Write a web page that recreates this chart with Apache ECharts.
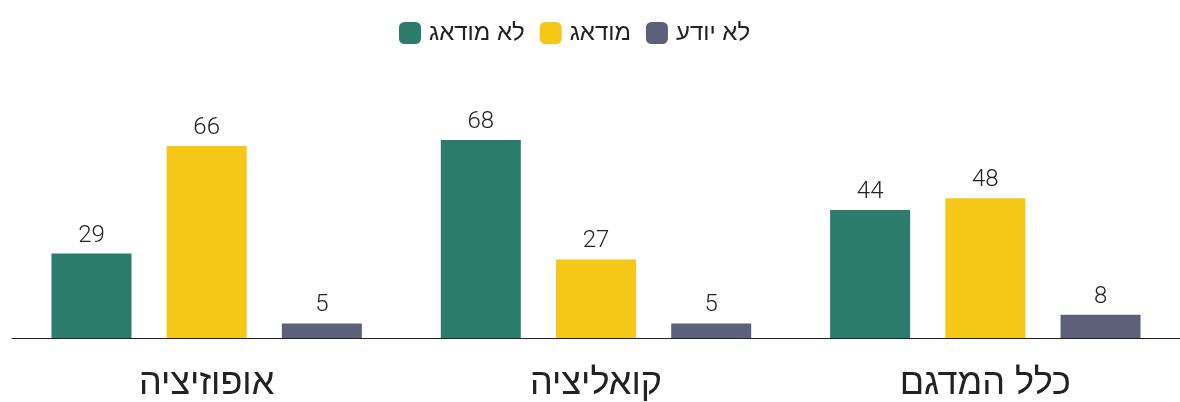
<!DOCTYPE html>
<html><head><meta charset="utf-8">
<script src="https://cdn.jsdelivr.net/npm/echarts@6/dist/echarts.min.js"></script>
<style>html,body{margin:0;padding:0;background:#fff}#c{width:1180px;height:402px}</style>
</head><body><div id="c"></div>
<script>
var categories = ['אופוזיציה', 'קואליציה', 'כלל המדגם'];
var seriesNames = ['לא מודאג', 'מודאג', 'לא יודע'];
var notWorried = [29, 68, 44];
var worried = [66, 27, 48];
var dontKnow = [5, 5, 8];
var colors = ['#2b7c6b', '#f5c818', '#5c6079'];

var chart = echarts.init(document.getElementById('c'));
var data = [notWorried, worried, dontKnow];
chart.setOption({
  animation: false,
  legend: {
    top: 16, left: 394,
    itemWidth: 22, itemHeight: 22, itemGap: 15,
    icon: 'roundRect',
    textStyle: { fontFamily: 'Liberation Sans', fontSize: 24, color: '#222', padding: [0, 0, 0, 3] },
    data: seriesNames
  },
  grid: { left: 12, right: 0, top: 47, bottom: 64 },
  xAxis: {
    type: 'category', data: categories,
    axisLine: { lineStyle: { color: '#222', width: 1.2 } },
    axisTick: { show: false },
    axisLabel: { fontFamily: 'Liberation Sans', fontSize: 36, color: '#222', margin: 28 }
  },
  yAxis: { type: 'value', min: 0, max: 100, show: false, splitLine: { show: false } },
  series: seriesNames.map(function (n, i) {
    return {
      name: n, type: 'bar', data: data[i], barWidth: 80, barGap: '44%',
      itemStyle: { color: colors[i] },
      label: { show: true, position: 'top', distance: 6, fontFamily: 'Roboto', fontWeight: 300, fontSize: 24, color: '#222' }
    };
  })
});
</script></body></html>
